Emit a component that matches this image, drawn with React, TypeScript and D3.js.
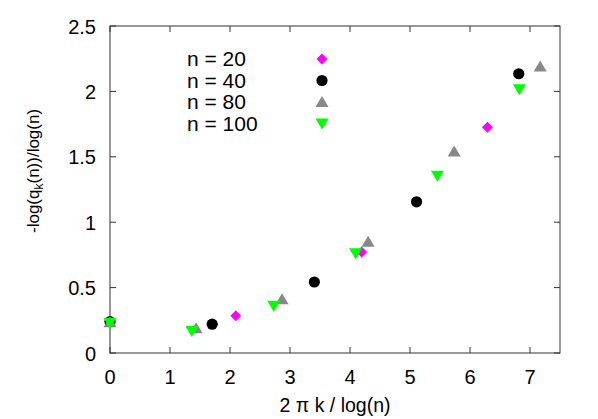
import * as React from 'react';
import * as d3 from 'd3';

type Shape = 'diamond' | 'circle' | 'triangleUp' | 'triangleDown';

const xTicks = [0, 1, 2, 3, 4, 5, 6, 7];
const yTicks = [0, 0.5, 1, 1.5, 2, 2.5];

// n = 20
const n20X = [0, 2.097, 4.194, 6.291];
const n20Y = [0.24, 0.285, 0.772, 1.726];
// n = 40
const n40X = [0, 1.703, 3.406, 5.109, 6.812];
const n40Y = [0.24, 0.22, 0.543, 1.156, 2.135];
// n = 80
const n80X = [0, 1.434, 2.868, 4.302, 5.736, 7.17];
const n80Y = [0.235, 0.19, 0.41, 0.85, 1.54, 2.19];
// n = 100
const n100X = [0, 1.364, 2.729, 4.093, 5.457, 6.822];
const n100Y = [0.232, 0.168, 0.362, 0.762, 1.355, 2.016];

const series: { label: string; color: string; shape: Shape; xs: number[]; ys: number[] }[] = [
  { label: 'n = 20', color: '#ff00ff', shape: 'diamond', xs: n20X, ys: n20Y },
  { label: 'n = 40', color: '#000000', shape: 'circle', xs: n40X, ys: n40Y },
  { label: 'n = 80', color: '#888888', shape: 'triangleUp', xs: n80X, ys: n80Y },
  { label: 'n = 100', color: '#00ff00', shape: 'triangleDown', xs: n100X, ys: n100Y },
];

const W = 598;
const H = 419;
const margin = { top: 26, right: 38, bottom: 66, left: 110 };
const FONT = '"Liberation Sans", Arial, sans-serif';

function markerPath(shape: Shape, cx: number, cy: number): string {
  if (shape === 'diamond') {
    const r = 5.5;
    return `M${cx},${cy - r}L${cx + r},${cy}L${cx},${cy + r}L${cx - r},${cy}Z`;
  }
  if (shape === 'triangleUp') {
    return `M${cx},${cy - 6}L${cx + 6.5},${cy + 5}L${cx - 6.5},${cy + 5}Z`;
  }
  return `M${cx},${cy + 6}L${cx + 6.5},${cy - 5}L${cx - 6.5},${cy - 5}Z`;
}

function Marker({ shape, cx, cy, color }: { shape: Shape; cx: number; cy: number; color: string }) {
  if (shape === 'circle') return <circle cx={cx} cy={cy} r={5.6} fill={color} />;
  return <path d={markerPath(shape, cx, cy)} fill={color} />;
}

export default function App() {
  const x = d3.scaleLinear().domain([0, 7.5]).range([margin.left, W - margin.right]);
  const y = d3.scaleLinear().domain([0, 2.5]).range([H - margin.bottom, margin.top]);
  const [x0, x1] = x.range();
  const [y0, y1] = y.range();
  const tick = 6;
  const axisColor = '#333';

  return (
    <svg width={W} height={H} style={{ position: 'absolute', left: 0, top: 0, background: '#fff' }} fontFamily={FONT}>
      <rect x={0} y={0} width={W} height={H} fill="#fff" />
      {/* ticks */}
      {xTicks.map((t) => (
        <g key={`x${t}`}>
          <line x1={x(t)} x2={x(t)} y1={y0} y2={y0 - tick} stroke={axisColor} />
          <line x1={x(t)} x2={x(t)} y1={y1} y2={y1 + tick} stroke={axisColor} />
          <text x={x(t)} y={y0 + 30.5} textAnchor="middle" fontSize={20} fill="#000">{t}</text>
        </g>
      ))}
      {yTicks.map((t) => (
        <g key={`y${t}`}>
          <line x1={x0} x2={x0 + tick} y1={y(t)} y2={y(t)} stroke={axisColor} />
          <line x1={x1} x2={x1 - tick} y1={y(t)} y2={y(t)} stroke={axisColor} />
          <text x={x0 - 14} y={y(t) + 7.5} textAnchor="end" fontSize={20} fill="#000">{t}</text>
        </g>
      ))}
      <rect x={x0} y={y1} width={x1 - x0} height={y0 - y1} fill="none" stroke={axisColor} />

      {/* labels */}
      <text x={(x0 + x1) / 2} y={411.5} textAnchor="middle" fontSize={19.5} fill="#000">
        2 π k / log(n)
      </text>
      <text transform="translate(39,233) rotate(-90)" textAnchor="start" fontSize={17} fill="#000">
        -log(q<tspan fontSize={12} dy={4}>k</tspan>
        <tspan dy={-4}>(n))/log(n)</tspan>
      </text>

      {/* points */}
      {series.map((s) => (
        <g key={s.label}>
          {s.xs.map((v, i) => (
            <Marker key={i} shape={s.shape} cx={x(v)} cy={y(s.ys[i])} color={s.color} />
          ))}
        </g>
      ))}

      {/* legend */}
      {series.map((s, i) => (
        <g key={`leg${s.label}`} transform={`translate(0,${59 + i * 21.5})`}>
          <text x={187} y={7} fontSize={21} fill="#000">{s.label}</text>
          <Marker shape={s.shape} cx={322} cy={0} color={s.color} />
        </g>
      ))}
    </svg>
  );
}
